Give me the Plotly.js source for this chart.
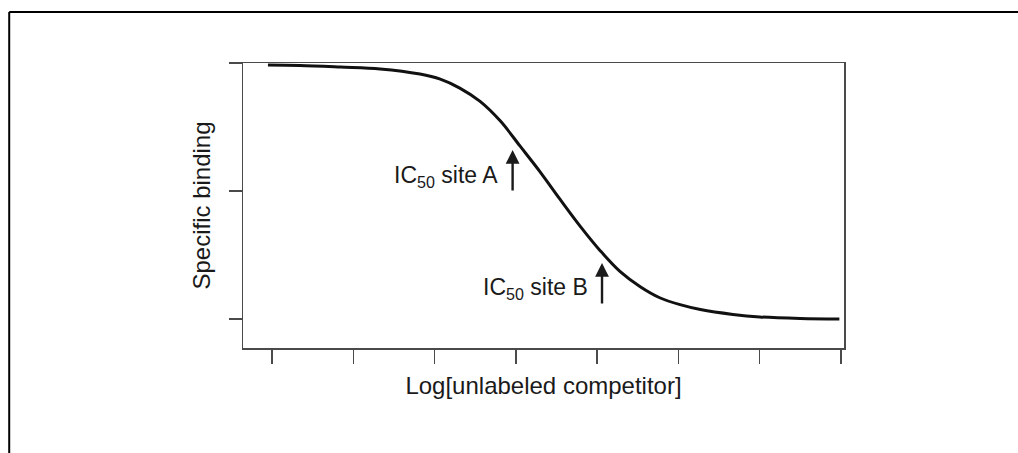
<!DOCTYPE html>
<html>
<head>
<meta charset="utf-8">
<script src="https://cdn.plot.ly/plotly-3.0.1.min.js"></script>
<style>
html,body{margin:0;padding:0;background:#fff;}
#chart{width:1018px;height:453px;}
</style>
</head>
<body>
<div id="chart"></div>
<script>
// Curve (x in log units of competitor, y = % specific binding)
const logCompetitor = [-0.05, 0.34, 0.84, 1.33, 1.82, 2.07, 2.31, 2.56, 2.81, 3.05, 3.30, 3.54, 3.79, 4.04, 4.28, 4.53, 4.77, 5.02, 5.27, 5.67, 6.00, 6.50, 6.98];
const specificBinding = [99.2, 99.0, 98.4, 97.7, 95.7, 93.7, 90.2, 85.0, 77.3, 67.6, 57.4, 46.9, 36.3, 26.6, 18.6, 12.6, 8.3, 5.6, 3.7, 1.8, 0.8, 0.2, 0.0];
const xTicks = [0, 1, 2, 3, 4, 5, 6, 7];
const yTicks = [0, 50, 100];
// IC50 markers: label, arrow x, arrow tail, arrow head, label height
const ic50Labels = ['IC<sub>50</sub> site A', 'IC<sub>50</sub> site B'];
const ic50X = [2.96, 4.06];
const ic50Tail = [49.6, 5.5];
const ic50Head = [66.0, 21.9];
const ic50LabelY = [55.6, 12.0];

const axisColor = '#4a4a4a';
const annotations = [];
ic50Labels.forEach((lab, i) => {
  annotations.push({
    x: ic50X[i], y: ic50Head[i], ax: ic50X[i], ay: ic50Tail[i],
    xref: 'x', yref: 'y', axref: 'x', ayref: 'y',
    text: '', showarrow: true, arrowhead: 2, arrowsize: 1.15, arrowwidth: 2.4,
    arrowcolor: '#1a1a1a', standoff: 0, startstandoff: 0
  });
  annotations.push({
    x: ic50X[i] - 0.15, y: ic50LabelY[i],
    xref: 'x', yref: 'y', xanchor: 'right', yanchor: 'middle',
    text: lab, showarrow: false,
    font: {family: 'Liberation Sans, Arial, sans-serif', size: 23, color: '#1a1a1a'}
  });
});

const data = [{
  x: logCompetitor, y: specificBinding, type: 'scatter', mode: 'lines',
  line: {color: '#111', width: 3, shape: 'spline', smoothing: 1},
  hoverinfo: 'skip'
}];

const layout = {
  width: 1018, height: 453,
  margin: {l: 243, r: 174, t: 63, b: 105, pad: 0},
  paper_bgcolor: '#fff', plot_bgcolor: '#fff',
  showlegend: false,
  font: {family: 'Liberation Sans, Arial, sans-serif', color: '#1a1a1a'},
  xaxis: {
    range: [-0.357, 7.037], tickvals: xTicks, showticklabels: false,
    ticks: 'outside', ticklen: 14, tickwidth: 1.5, tickcolor: axisColor,
    showline: true, linecolor: axisColor, linewidth: 1.5, mirror: true,
    showgrid: false, zeroline: false, fixedrange: true,
    title: {text: 'Log[unlabeled competitor]', standoff: 14,
            font: {size: 24, color: '#1a1a1a'}}
  },
  yaxis: {
    range: [-11.33, 100], tickvals: yTicks, showticklabels: false,
    ticks: 'outside', ticklen: 13, tickwidth: 1.5, tickcolor: axisColor,
    showline: true, linecolor: axisColor, linewidth: 1.5, mirror: true,
    showgrid: false, zeroline: false, fixedrange: true,
    title: {text: 'Specific binding', standoff: 11,
            font: {size: 24, color: '#1a1a1a'}}
  },
  annotations: annotations,
  shapes: [
    {type: 'line', xref: 'paper', yref: 'paper', x0: -0.389, x1: 1.4, y0: 1.179, y1: 1.179,
     line: {color: '#000', width: 2}},
    {type: 'line', xref: 'paper', yref: 'paper', x0: -0.389, x1: -0.389, y0: 1.179, y1: -0.4,
     line: {color: '#000', width: 2}}
  ]
};

Plotly.newPlot('chart', data, layout, {displayModeBar: false, staticPlot: true});
</script>
</body>
</html>
